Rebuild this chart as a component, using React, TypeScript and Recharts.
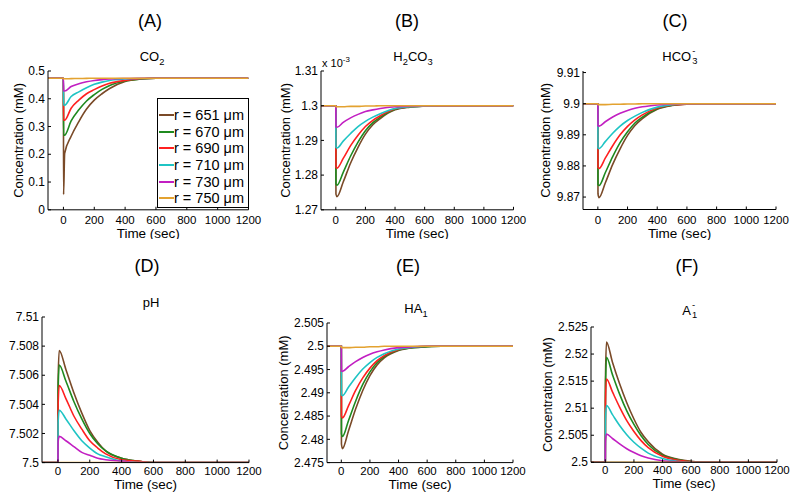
import React from "react";
import { LineChart, Line, XAxis, YAxis, Legend } from "recharts";

// time samples (sec)
const time = [-100, 0, 1, 8, 50, 100, 150, 200, 250, 300, 400, 500, 600, 700, 1200];

const radii = ["r = 651 μm", "r = 670 μm", "r = 690 μm", "r = 710 μm", "r = 730 μm", "r = 750 μm"];
const colors = ["#7a4a28", "#1f8a1f", "#ff2020", "#1fc4c4", "#c21fc2", "#e3a230"];

const xTicks = [0, 200, 400, 600, 800, 1000, 1200];

// (A) CO2, mM
const co2 = [
  [0.474, 0.474, 0.055, 0.203, 0.265, 0.318, 0.363, 0.395, 0.418, 0.437, 0.462, 0.471, 0.474, 0.474, 0.474],
  [0.474, 0.474, 0.269, 0.269, 0.32, 0.36, 0.392, 0.415, 0.434, 0.448, 0.464, 0.471, 0.474, 0.474, 0.474],
  [0.474, 0.474, 0.323, 0.323, 0.366, 0.395, 0.418, 0.433, 0.446, 0.456, 0.466, 0.472, 0.474, 0.474, 0.474],
  [0.474, 0.474, 0.377, 0.377, 0.408, 0.425, 0.44, 0.452, 0.46, 0.466, 0.471, 0.473, 0.474, 0.474, 0.474],
  [0.474, 0.474, 0.428, 0.428, 0.444, 0.454, 0.461, 0.466, 0.469, 0.471, 0.473, 0.474, 0.474, 0.474, 0.474],
  [0.474, 0.474, 0.472, 0.472, 0.4725, 0.473, 0.4735, 0.474, 0.474, 0.474, 0.474, 0.474, 0.474, 0.474, 0.474],
];

// (B) H2CO3, x 10^-3 mM
const h2co3 = [
  [1.3, 1.3, 1.2745, 1.2738, 1.278, 1.2835, 1.288, 1.2918, 1.2945, 1.2963, 1.2988, 1.2996, 1.2999, 1.3, 1.3],
  [1.3, 1.3, 1.2775, 1.2771, 1.2808, 1.2855, 1.2895, 1.2928, 1.2951, 1.2967, 1.299, 1.2997, 1.2999, 1.3, 1.3],
  [1.3, 1.3, 1.2823, 1.282, 1.2848, 1.2885, 1.2915, 1.294, 1.2958, 1.2971, 1.2991, 1.2997, 1.2999, 1.3, 1.3],
  [1.3, 1.3, 1.288, 1.2878, 1.2898, 1.292, 1.294, 1.2955, 1.2967, 1.2977, 1.2992, 1.2997, 1.2999, 1.3, 1.3],
  [1.3, 1.3, 1.2939, 1.2938, 1.2952, 1.2965, 1.2975, 1.2983, 1.2988, 1.2992, 1.2997, 1.2999, 1.3, 1.3, 1.3],
  [1.3, 1.3, 1.2997, 1.2997, 1.2997, 1.2998, 1.2998, 1.2999, 1.2999, 1.3, 1.3, 1.3, 1.3, 1.3, 1.3],
];

// (C) HCO3-, mM
const hco3 = [
  [9.9, 9.9, 9.871, 9.8698, 9.8745, 9.8805, 9.8855, 9.8898, 9.893, 9.8952, 9.8982, 9.8994, 9.8998, 9.9, 9.9],
  [9.9, 9.9, 9.874, 9.8737, 9.8778, 9.883, 9.8875, 9.891, 9.8938, 9.8957, 9.8984, 9.8995, 9.8999, 9.9, 9.9],
  [9.9, 9.9, 9.8795, 9.8792, 9.8825, 9.8865, 9.89, 9.8927, 9.8948, 9.8964, 9.8986, 9.8996, 9.8999, 9.9, 9.9],
  [9.9, 9.9, 9.8858, 9.8856, 9.8878, 9.8905, 9.8928, 9.8946, 9.896, 9.8972, 9.8989, 9.8997, 9.9, 9.9, 9.9],
  [9.9, 9.9, 9.8929, 9.8928, 9.8942, 9.8957, 9.8969, 9.8978, 9.8985, 9.899, 9.8996, 9.8999, 9.9, 9.9, 9.9],
  [9.9, 9.9, 9.8997, 9.8997, 9.8997, 9.8998, 9.8998, 9.8999, 9.8999, 9.9, 9.9, 9.9, 9.9, 9.9, 9.9],
];

// (D) pH
const ph = [
  [7.5, 7.5, 7.5055, 7.5077, 7.5064, 7.5048, 7.5034, 7.5022, 7.5014, 7.5008, 7.5003, 7.5001, 7.5, 7.5, 7.5],
  [7.5, 7.5, 7.5048, 7.5067, 7.5056, 7.5042, 7.503, 7.502, 7.5013, 7.5008, 7.5003, 7.5001, 7.5, 7.5, 7.5],
  [7.5, 7.5, 7.5038, 7.5053, 7.5044, 7.5032, 7.5023, 7.5015, 7.501, 7.5006, 7.5002, 7.5001, 7.5, 7.5, 7.5],
  [7.5, 7.5, 7.5027, 7.5036, 7.503, 7.5022, 7.5015, 7.501, 7.5006, 7.5004, 7.5001, 7.5, 7.5, 7.5, 7.5],
  [7.5, 7.5, 7.5014, 7.5018, 7.5015, 7.5011, 7.5007, 7.5005, 7.5003, 7.5002, 7.5001, 7.5, 7.5, 7.5, 7.5],
  [7.5, 7.5, 7.5, 7.5, 7.5, 7.5, 7.5, 7.5, 7.5, 7.5, 7.5, 7.5, 7.5, 7.5, 7.5],
];

// (E) HA1, mM
const ha1 = [
  [2.5, 2.5, 2.479, 2.478, 2.4818, 2.4865, 2.4905, 2.4937, 2.496, 2.4975, 2.4991, 2.4997, 2.4999, 2.5, 2.5],
  [2.5, 2.5, 2.4812, 2.4806, 2.484, 2.4882, 2.4918, 2.4945, 2.4965, 2.4978, 2.4992, 2.4997, 2.4999, 2.5, 2.5],
  [2.5, 2.5, 2.485, 2.4846, 2.4872, 2.4905, 2.4932, 2.4953, 2.4969, 2.498, 2.4993, 2.4998, 2.5, 2.5, 2.5],
  [2.5, 2.5, 2.4896, 2.4894, 2.4912, 2.4933, 2.4951, 2.4965, 2.4976, 2.4984, 2.4994, 2.4998, 2.5, 2.5, 2.5],
  [2.5, 2.5, 2.4947, 2.4946, 2.4956, 2.4967, 2.4976, 2.4983, 2.4988, 2.4992, 2.4997, 2.4999, 2.5, 2.5, 2.5],
  [2.5, 2.5, 2.4997, 2.4997, 2.4997, 2.4998, 2.4998, 2.4999, 2.4999, 2.5, 2.5, 2.5, 2.5, 2.5, 2.5],
];

// (F) A1-, mM
const a1 = [
  [2.5, 2.5, 2.515, 2.5222, 2.5185, 2.5145, 2.511, 2.508, 2.5055, 2.5038, 2.5015, 2.5006, 2.5002, 2.5, 2.5],
  [2.5, 2.5, 2.513, 2.5194, 2.5162, 2.5126, 2.5095, 2.507, 2.5049, 2.5033, 2.5013, 2.5005, 2.5001, 2.5, 2.5],
  [2.5, 2.5, 2.511, 2.5154, 2.513, 2.5102, 2.5077, 2.5057, 2.504, 2.5027, 2.5011, 2.5004, 2.5001, 2.5, 2.5],
  [2.5, 2.5, 2.5075, 2.5105, 2.5088, 2.5068, 2.5051, 2.5037, 2.5026, 2.5017, 2.5007, 2.5002, 2.5, 2.5, 2.5],
  [2.5, 2.5, 2.5038, 2.5052, 2.5044, 2.5034, 2.5025, 2.5018, 2.5012, 2.5008, 2.5003, 2.5001, 2.5, 2.5, 2.5],
  [2.5, 2.5, 2.5, 2.5, 2.5, 2.5, 2.5, 2.5, 2.5, 2.5, 2.5, 2.5, 2.5, 2.5, 2.5],
];

const FONT = '"Liberation Sans", Arial, Helvetica, sans-serif';
const INK = "#000";
const Y_AXIS_W = 62;
const M_TOP = 10;
const M_RIGHT = 22;
const X_AXIS_H = 30;

const toRows = (series: number[][]) =>
  time.map((t, i) => {
    const row: Record<string, number> = { t };
    series.forEach((s, k) => (row["s" + k] = s[i]));
    return row;
  });

const fmt = (v: number) => String(+v.toFixed(4));

const Sub = ({ c }: { c: string }) => <sub style={{ fontSize: "0.72em", lineHeight: 0 }}>{c}</sub>;

// stacked subscript / superscript, as in HCO3^- and A1^-
const SubSup = ({ sub, sup }: { sub: string; sup: string }) => (
  <span style={{ position: "relative", display: "inline-block", fontSize: "0.72em", width: "0.6em", height: "1em", marginLeft: 1 }}>
    <span style={{ position: "absolute", left: 0, top: "-0.6em" }}>{sup}</span>
    <span style={{ position: "absolute", left: 0, top: "0.45em" }}>{sub}</span>
  </span>
);

const panels = [
  {
    letter: "(A)", title: <>CO<Sub c="2" /></>, data: co2,
    domain: [0, 0.5], ticks: [0, 0.1, 0.2, 0.3, 0.4, 0.5],
    plot: { x: 47.5, y: 70.7, w: 200.5, h: 138.8 }, letterAt: [150, 21], titleAt: [152, 57],
    yLabelX: 18, tickDy: 14.5, timeOff: 2, legend: true,
  },
  {
    letter: "(B)", title: <>H<Sub c="2" />CO<Sub c="3" /></>, data: h2co3,
    domain: [1.27, 1.31], ticks: [1.27, 1.28, 1.29, 1.3, 1.31],
    plot: { x: 320.5, y: 70.7, w: 192.5, h: 138.8 }, letterAt: [407, 21], titleAt: [413, 57],
    yLabelX: 285, tickDy: 14.5, timeOff: 2,
  },
  {
    letter: "(C)", title: <>HCO<SubSup sub="3" sup="-" /></>, data: hco3,
    domain: [9.866, 9.9105], ticks: [9.87, 9.88, 9.89, 9.9, 9.91],
    plot: { x: 583, y: 71, w: 193, h: 138.5 }, letterAt: [675, 21], titleAt: [680, 57],
    yLabelX: 545, tickDy: 14.5, timeOff: 2,
  },
  {
    letter: "(D)", title: <>pH</>, data: ph,
    domain: [7.5, 7.51], ticks: [7.5, 7.502, 7.504, 7.506, 7.508, 7.51],
    plot: { x: 42, y: 316.7, w: 207, h: 145.6 }, letterAt: [147, 266], titleAt: [151, 303],
    yLabelX: null, tickDy: 12, timeOff: 4,
  },
  {
    letter: "(E)", title: <>HA<Sub c="1" /></>, data: ha1,
    domain: [2.475, 2.505], ticks: [2.475, 2.48, 2.485, 2.49, 2.495, 2.5, 2.505],
    plot: { x: 327, y: 322.7, w: 186, h: 139.6 }, letterAt: [408, 266], titleAt: [416, 309],
    yLabelX: 283, tickDy: 12, timeOff: 4,
  },
  {
    letter: "(F)", title: <>A<SubSup sub="1" sup="-" /></>, data: a1,
    domain: [2.5, 2.525], ticks: [2.5, 2.505, 2.51, 2.515, 2.52, 2.525],
    plot: { x: 591, y: 327, w: 186, h: 135.3 }, letterAt: [687, 266], titleAt: [690, 311],
    yLabelX: 547, tickDy: 12, timeOff: 4,
  },
];

const xTick = (dy: number) => (p: any) => (
  <g>
    <line x1={p.x} y1={p.y} x2={p.x} y2={p.y - 3} stroke={INK} />
    <text x={p.x} y={p.y + dy} textAnchor="middle" fontSize={11.5} fontFamily={FONT} fill={INK}>
      {p.payload.value}
    </text>
  </g>
);

const yTick = (p: any) => (
  <g>
    <line x1={p.x} y1={p.y} x2={p.x + 3} y2={p.y} stroke={INK} />
    <text x={p.x - 3} y={p.y + 4.2} textAnchor="end" fontSize={12} fontFamily={FONT} fill={INK}>
      {fmt(p.payload.value)}
    </text>
  </g>
);

const LegendBox = ({ payload }: any) => (
  <div style={{ width: 90, height: 100, border: "1px solid #000", background: "#fff", paddingTop: 8, boxSizing: "content-box", fontFamily: FONT }}>
    {(payload || []).map((e: any) => (
      <div key={e.value} style={{ display: "flex", alignItems: "center", height: 16.6 }}>
        <span style={{ width: 15, height: 2, background: e.color, marginLeft: 1 }} />
        <span style={{ fontSize: 14.5, color: INK, whiteSpace: "nowrap" }}>{e.value}</span>
      </div>
    ))}
  </div>
);

function Panel({ p }: { p: (typeof panels)[number] }) {
  const left = p.plot.x - Y_AXIS_W;
  const top = p.plot.y - M_TOP;
  const width = Y_AXIS_W + p.plot.w + M_RIGHT;
  const height = M_TOP + p.plot.h + X_AXIS_H;
  const rows = toRows(p.data);
  return (
    <div style={{ position: "absolute", left, top, width, height }}>
      <LineChart width={width} height={height} data={rows} margin={{ top: M_TOP, right: M_RIGHT, bottom: 0, left: 0 }}>
        <XAxis
          dataKey="t" type="number" domain={[-100, 1200]} ticks={xTicks} interval={0}
          allowDataOverflow tickSize={0} tickMargin={0} tickLine={false}
          axisLine={{ stroke: INK }} height={X_AXIS_H} tick={xTick(p.tickDy)}
          label={{ value: "Time (sec)", position: "insideBottom", offset: p.timeOff, style: { fontSize: 13.5, fill: INK, fontFamily: FONT } }}
        />
        <YAxis
          type="number" domain={p.domain} ticks={p.ticks} interval={0} allowDataOverflow
          width={Y_AXIS_W} tickSize={0} tickMargin={0} tickLine={false}
          axisLine={{ stroke: INK }} tick={yTick}
          label={p.yLabelX == null ? undefined : {
            value: "Concentration (mM)", angle: -90, position: "insideLeft", offset: p.yLabelX - left,
            style: { textAnchor: "middle", fontSize: 13, fill: INK, fontFamily: FONT },
          }}
        />
        {p.data.map((_, k) => (
          <Line key={k} type="monotone" dataKey={"s" + k} name={radii[k]} stroke={colors[k]} strokeWidth={1.6} dot={false} isAnimationActive={false} />
        ))}
        {p.legend && (
          <Legend
            layout="vertical" align="center" verticalAlign="middle" content={LegendBox}
            wrapperStyle={{ left: 157 - left, top: 98 - top, width: 92 }}
          />
        )}
      </LineChart>
    </div>
  );
}

const centered = (x: number, y: number, size: number): React.CSSProperties => ({
  position: "absolute", left: x - 60, top: y - size * 0.58, width: 120, textAlign: "center",
  fontSize: size, lineHeight: "normal", whiteSpace: "nowrap",
});

export default function App() {
  return (
    <div style={{ position: "absolute", left: 0, top: 0, width: 800, height: 503, background: "#fff", fontFamily: FONT, color: INK, overflow: "hidden" }}>
      {panels.map((p) => (
        <React.Fragment key={p.letter}>
          <div style={centered(p.letterAt[0], p.letterAt[1], 18)}>{p.letter}</div>
          <div style={centered(p.titleAt[0], p.titleAt[1], 13)}>{p.title}</div>
          <Panel p={p} />
        </React.Fragment>
      ))}
      <div style={{ position: "absolute", left: 322, top: 55, fontSize: 11, whiteSpace: "nowrap" }}>
        x 10<sup style={{ fontSize: "0.72em" }}>-3</sup>
      </div>
    </div>
  );
}
